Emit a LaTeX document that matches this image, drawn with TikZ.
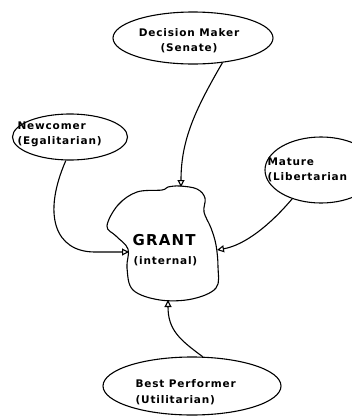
\documentclass[tikz,border=0pt]{standalone}
\usepackage{fontspec}
\setsansfont{DejaVu Sans}[LetterSpace=8]
\usepackage{tikz}
\usetikzlibrary{positioning}
\usetikzlibrary{shapes.geometric}
\usetikzlibrary{arrows.meta}

\begin{document}
\begin{tikzpicture}[x=1pt,y=-1pt,line width=1.1pt,
  bubble/.style={ellipse,draw,inner sep=0pt},
  lbl/.style={font=\sffamily\bfseries\fontsize{10.5}{12}\selectfont,inner sep=0pt,align=left,anchor=west},
  link/.style={-{Triangle[open,length=7pt,width=7pt]},shorten >=0pt}]
\useasboundingbox (0,0) rectangle (352,418);

% the grant blob
\draw plot[smooth cycle,tension=0.6] coordinates {
  (107,226) (118,205) (137,192) (162,190) (168,187) (180,186) (197,189)
  (205,198) (204,212) (211,228) (216,245) (218,267) (216,288) (192,299)
  (160,300) (133,290) (127,268) (128,249) (116,236)};
\coordinate (grantN) at (181,187);
\coordinate (grantW) at (129,252);
\coordinate (grantE) at (217,250);
\coordinate (grantS) at (168,300);
\node[lbl,font=\sffamily\bfseries\fontsize{15}{17}\selectfont] (grant) at (132,240) {GRANT};
\node[lbl] (internal) at (133,261) {(internal)};

% the four views
\node[bubble,minimum width=160pt,minimum height=52pt] (senate) at (193,38) {};
\node[lbl,align=center,anchor=center] (senatetxt) at (189,41) {Decision Maker\\[3pt](Senate)};

\node[bubble,minimum width=115pt,minimum height=46pt] (newcomer) at (70,137) {};
\node[lbl] (newcomertxt) at (17,134) {Newcomer\\[3pt](Egalitarian)};

\node[bubble,minimum width=112pt,minimum height=66pt] (mature) at (321,170) {};
\node[lbl] (maturetxt) at (267,170) {Mature\\[3pt](Libertarian};

\node[bubble,minimum width=178pt,minimum height=58pt] (best) at (192,386) {};
\node[lbl] (besttxt) at (135,392) {Best Performer\\[4pt](Utilitarian)};

\draw[link] (senate.-40) .. controls (195,110) and (181,140) .. (grantN);
\draw[link] (newcomer.-100) .. controls (42,215) and (55,252) .. (95,252) -- (grantW);
\draw[link] (mature.-135) .. controls (270,225) and (245,245) .. (grantE);
\draw[link] (best.70) .. controls (180,340) and (168,330) .. (grantS);
\end{tikzpicture}
\end{document}
